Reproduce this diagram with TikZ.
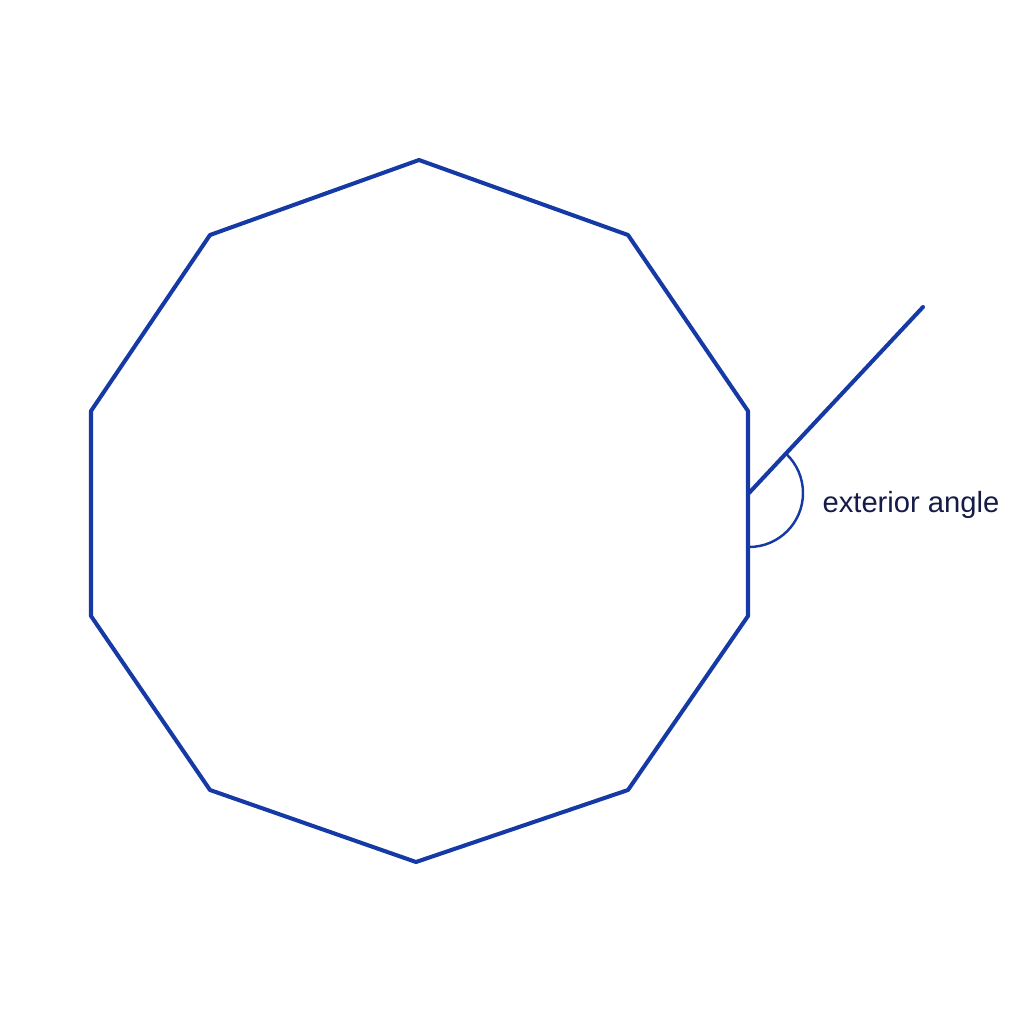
\documentclass[tikz,border=0pt]{standalone}
\usepackage{fontspec}
\setmainfont{Liberation Sans}
\usetikzlibrary{positioning}
\definecolor{edgeblue}{RGB}{22,58,165}
\definecolor{labelnavy}{RGB}{22,26,72}

\begin{document}
\begin{tikzpicture}[x=0.01cm,y=-0.01cm,
    side/.style={draw=edgeblue,line width=1.15pt,line join=round},
    anglearc/.style={draw=edgeblue,line width=0.7pt}]
    \useasboundingbox (0,0) rectangle (1024,1024);

    % decagon corners
    \coordinate (v1) at (419,160);
    \coordinate (v2) at (628,235);
    \coordinate (v3) at (748,411);
    \coordinate (v4) at (748,616);
    \coordinate (v5) at (628,790);
    \coordinate (v6) at (416,862);
    \coordinate (v7) at (210,790);
    \coordinate (v8) at (91,616);
    \coordinate (v9) at (91,411);
    \coordinate (v10) at (210,235);

    \draw[side] (v1) -- (v2) -- (v3) -- (v4) -- (v5) -- (v6) -- (v7)
        -- (v8) -- (v9) -- (v10) -- cycle;

    % extended side
    \coordinate (p) at (749,493);
    \coordinate (e) at (923,307);
    \coordinate (a0) at (749,547);
    \draw[side,line cap=round] (p) -- (e);

    \draw[anglearc] (a0) arc[start angle=90, end angle=-47, radius=54];

    \node[text=labelnavy,font=\fontsize{8.3}{10}\selectfont] (lbl) at (911,505) {exterior angle};
\end{tikzpicture}
\end{document}
